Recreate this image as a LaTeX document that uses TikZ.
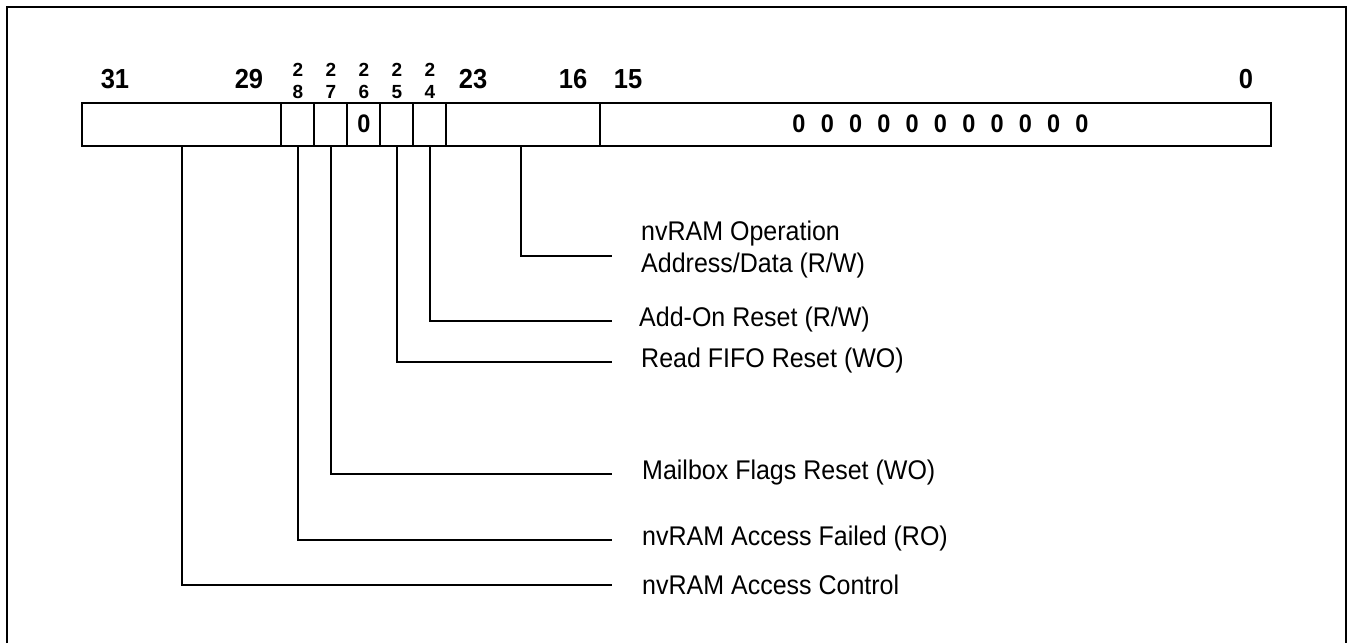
\documentclass[tikz,border=0pt]{standalone}
\usepackage{fontspec}
\setmainfont{Liberation Sans}
\newcommand{\vstretch}[1]{\scalebox{1}[1.08]{#1}}
\begin{document}
\begin{tikzpicture}[x=1pt,y=-1pt,
  reg/.style={draw=black,line width=1.4pt,fill=white},
  conn/.style={draw=black,line width=1.2pt},
  bignum/.style={font=\fontsize{25.5}{26}\selectfont\bfseries,inner sep=0pt},
  zeronum/.style={font=\fontsize{23.5}{24}\selectfont\bfseries,inner sep=0pt},
  smallnum/.style={font=\fontsize{19}{20}\selectfont\bfseries,inner sep=0pt},
  lbl/.style={font=\fontsize{25}{30}\selectfont,inner sep=0pt,anchor=west}]
\useasboundingbox (0,0) rectangle (1348,643);
% frame
\draw[line width=1.3pt] (7,643) -- (7,7) -- (1346,7) -- (1346,643);
% register fields
\foreach \a/\b/\n in {82/281/f31, 281/314/f28, 314/347/f27, 347/380/f26, 380/413/f25, 413/446/f24, 446/600/f23, 600/1271/f15}
  \draw[reg] (\a,103) rectangle (\b,146) coordinate (\n);
\node[zeronum] (v26) at (364,124) {\vstretch{0}};
\foreach \i in {0,...,10}
  \node[zeronum] (z\i) at (799+28.3*\i,124) {\vstretch{0}};
% bit numbers
\node[bignum] (n31) at (115,79) {\vstretch{31}};
\node[bignum] (n29) at (249,79) {\vstretch{29}};
\foreach \x/\d in {298/8, 331/7, 364/6, 397/5, 430/4} {
  \node[smallnum] (t\d) at (\x,70) {2};
  \node[smallnum] (b\d) at (\x,92) {\d};
}
\node[bignum] (n23) at (473,79) {\vstretch{23}};
\node[bignum] (n16) at (573,79) {\vstretch{16}};
\node[bignum] (n15) at (628,79) {\vstretch{15}};
\node[bignum] (n0) at (1246,79) {\vstretch{0}};
% connector anchors
\coordinate (s31) at (182,146);
\coordinate (s28) at (298,146);
\coordinate (s27) at (331,146);
\coordinate (s25) at (397,146);
\coordinate (s24) at (430,146);
\coordinate (s23) at (521,146);
\coordinate (e23) at (612,256);
\coordinate (e24) at (612,321);
\coordinate (e25) at (612,362);
\coordinate (e27) at (612,474);
\coordinate (e28) at (612,540);
\coordinate (e31) at (612,585);
% labels
\node[lbl] (l23) at (641,250) {\vstretch{\begin{tabular}{@{}l@{}}nvRAM Operation\\[-1pt]Address/Data (R/W)\end{tabular}}};
\node[lbl] (l24) at (639,320) {\vstretch{Add-On Reset (R/W)}};
\node[lbl] (l25) at (641,361) {\vstretch{Read FIFO Reset (WO)}};
\node[lbl] (l27) at (642,473) {\vstretch{Mailbox Flags Reset (WO)}};
\node[lbl] (l28) at (642,539) {\vstretch{nvRAM Access Failed (RO)}};
\node[lbl] (l31) at (642,585) {\vstretch{nvRAM Access Control}};
% connectors
\foreach \s in {23,24,25,27,28,31}
  \draw[conn] (s\s) |- (e\s);
\end{tikzpicture}
\end{document}
